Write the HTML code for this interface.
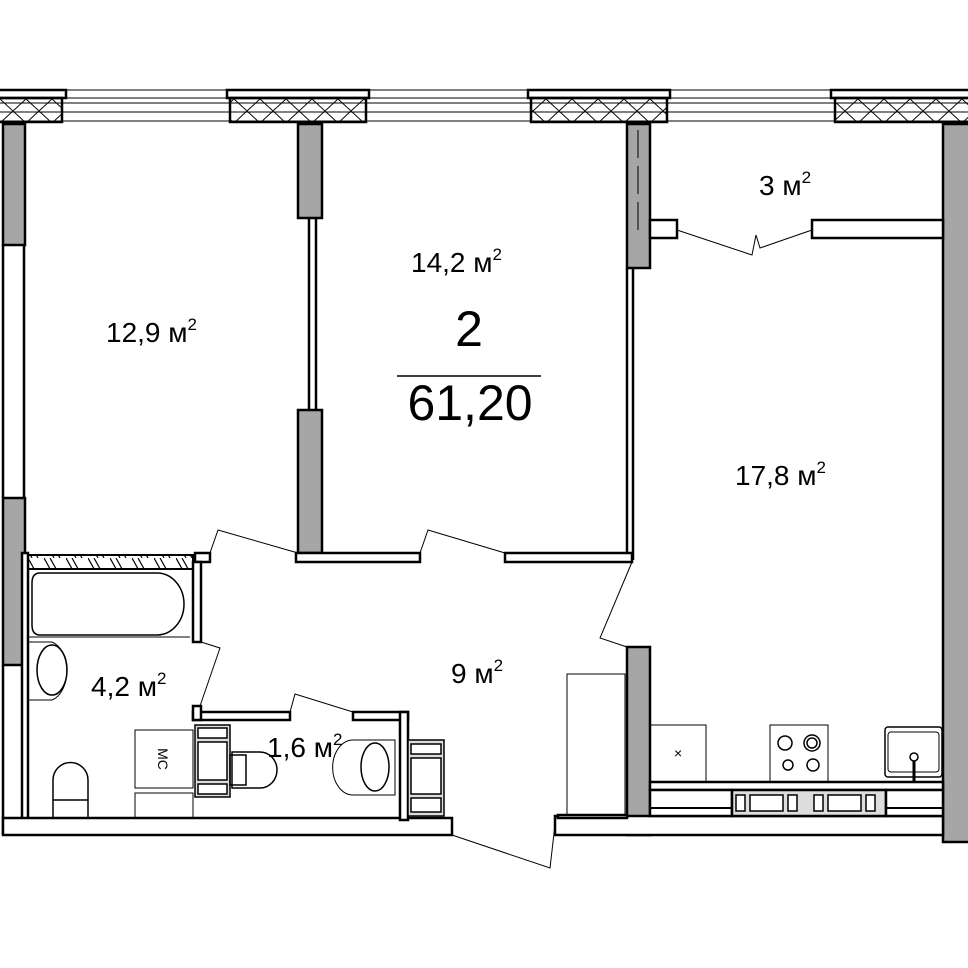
<!DOCTYPE html>
<html><head><meta charset="utf-8"><style>body{margin:0;background:#fff}svg{display:block}text{font-family:"Liberation Sans",sans-serif;fill:#000}</style></head><body>
<svg width="968" height="968" viewBox="0 0 968 968" xmlns="http://www.w3.org/2000/svg">
<defs>
<pattern id="xh" width="26" height="24" patternUnits="userSpaceOnUse" y="99"><path d="M0 0L26 24M26 0L0 24" stroke="#000" stroke-width="1"/></pattern>
<pattern id="dh" width="22" height="18" patternUnits="userSpaceOnUse"><path d="M0 0L10 18M6 0L16 18" stroke="#000" stroke-width="1.2"/></pattern>
</defs>
<g fill="none" stroke="#000" stroke-width="1">
<line x1="0" y1="90" x2="968" y2="90"/><line x1="0" y1="98" x2="968" y2="98"/><line x1="0" y1="103" x2="968" y2="103"/><line x1="0" y1="112" x2="968" y2="112"/><line x1="0" y1="121" x2="968" y2="121"/>
</g>
<g stroke="#000" stroke-width="2.5" fill="#fff">
<rect x="-5" y="90" width="71" height="8"/><rect x="-5" y="98" width="67" height="24" fill="url(#xh)"/>
<rect x="227" y="90" width="142" height="8"/><rect x="230" y="98" width="136" height="24" fill="url(#xh)"/>
<rect x="528" y="90" width="142" height="8"/><rect x="531" y="98" width="136" height="24" fill="url(#xh)"/>
<rect x="831" y="90" width="142" height="8"/><rect x="835" y="98" width="140" height="24" fill="url(#xh)"/>
</g>
<g stroke="#000" stroke-width="2.5" fill="#a6a6a6">
<rect x="3" y="124" width="22" height="121"/><rect x="3" y="498" width="22" height="167"/>
<rect x="298" y="124" width="24" height="94"/><rect x="298" y="410" width="24" height="143"/>
<rect x="627" y="124" width="23" height="144"/>
<rect x="943" y="124" width="30" height="718"/>
<rect x="627" y="647" width="23" height="188"/>
</g>
<line x1="638" y1="130" x2="638" y2="230" stroke="#000" stroke-width="1" stroke-dasharray="28,8"/>
<g stroke="#000" stroke-width="2.5" fill="#fff">
<line x1="3" y1="245" x2="3" y2="498"/><line x1="24" y1="245" x2="24" y2="498"/>
<line x1="3" y1="665" x2="3" y2="835"/>
<line x1="309" y1="218" x2="309" y2="410"/><line x1="316" y1="218" x2="316" y2="410"/>
<line x1="627" y1="268" x2="627" y2="560"/><line x1="633" y1="268" x2="633" y2="560"/>
<rect x="650" y="220" width="27" height="18"/><rect x="812" y="220" width="131" height="18"/>
<rect x="296" y="553" width="124" height="9"/><rect x="505" y="553" width="127" height="9"/>
<rect x="195" y="553" width="15" height="9"/>
<rect x="22" y="553" width="6" height="268"/>
<rect x="193" y="562" width="8" height="80"/>
<rect x="3" y="818" width="449" height="17"/>
<rect x="555" y="816" width="388" height="19"/>
<rect x="193" y="712" width="97" height="8"/><rect x="353" y="712" width="55" height="8"/>
<rect x="400" y="712" width="8" height="108"/>
<rect x="193" y="706" width="8" height="14"/>
</g>
<rect x="28" y="555" width="165" height="14" fill="url(#dh)" stroke="#000" stroke-width="2"/>
<g fill="none" stroke="#000" stroke-width="1">
<path d="M420 553L428 530L505 553"/><path d="M210 553L218 530L298 553"/>
<path d="M632 562L600 638L627 647"/>
<path d="M677 230L752 255L756 235L760 248L812 230"/>
<path d="M201 642L220 648L200 706"/>
<path d="M290 712L295 694L353 712"/>
<path d="M452 835L550 868L556 816"/>
</g>
<g fill="none" stroke="#000" stroke-width="1.5">
<path d="M40 573H157A27 31 0 0 1 157 635H40Q32 635 32 625V583Q32 573 40 573Z"/>
<line x1="28" y1="637" x2="190" y2="637" stroke-width="1"/>
<path d="M28 642H52A20 30 0 0 1 52 700H28Z" stroke-width="1"/>
<ellipse cx="52" cy="670" rx="15" ry="25"/>
<path d="M53 818V780A17 17 0 0 1 88 780V818"/><line x1="53" y1="800" x2="88" y2="800"/>
<rect x="135" y="730" width="58" height="58" stroke-width="1"/><rect x="135" y="793" width="58" height="25" stroke-width="1"/>
<rect x="195" y="725" width="35" height="72" fill="#ddd" stroke-width="1.5"/>
<rect x="198" y="728" width="29" height="10" fill="#fff"/><rect x="198" y="742" width="29" height="38" fill="#fff"/><rect x="198" y="784" width="29" height="10" fill="#fff"/>
<path d="M232 752H260A17 18 0 0 1 260 788H232Z"/><rect x="230" y="755" width="16" height="30"/>
<path d="M353 740H395V795H353A20 27 0 0 1 353 740Z" stroke-width="1"/>
<ellipse cx="375" cy="767" rx="14" ry="24"/>
<rect x="408" y="740" width="36" height="76" fill="#ddd"/>
<rect x="411" y="744" width="30" height="10" fill="#fff"/><rect x="411" y="758" width="30" height="36" fill="#fff"/><rect x="411" y="798" width="30" height="14" fill="#fff"/>
<rect x="567" y="674" width="58" height="142" stroke-width="1"/>
<rect x="650" y="725" width="56" height="57" stroke-width="1"/>
<rect x="770" y="725" width="58" height="57" stroke-width="1"/>
<circle cx="785" cy="743" r="7"/><circle cx="812" cy="743" r="8"/><circle cx="812" cy="743" r="5"/><circle cx="788" cy="765" r="5"/><circle cx="813" cy="765" r="6"/>
<rect x="885" y="727" width="57" height="50" rx="3"/><rect x="888" y="732" width="51" height="40" rx="3" stroke-width="1"/>
<circle cx="914" cy="757" r="4"/>
</g>
<line x1="914" y1="761" x2="914" y2="781" stroke="#000" stroke-width="3"/>
<g stroke="#000" stroke-width="2.5" fill="#fff">
<rect x="650" y="782" width="293" height="8"/>
<rect x="650" y="790" width="82" height="26"/><rect x="732" y="790" width="154" height="26" fill="#ddd"/><rect x="886" y="790" width="57" height="26"/>
<rect x="558" y="815" width="69" height="3"/>
</g>
<g fill="#fff" stroke="#000" stroke-width="1.5">
<rect x="736" y="795" width="9" height="16"/><rect x="750" y="795" width="33" height="16"/><rect x="788" y="795" width="9" height="16"/>
<rect x="814" y="795" width="9" height="16"/><rect x="828" y="795" width="33" height="16"/><rect x="866" y="795" width="9" height="16"/>
</g>
<line x1="650" y1="808" x2="732" y2="808" stroke="#000" stroke-width="2"/><line x1="886" y1="808" x2="943" y2="808" stroke="#000" stroke-width="2"/>
<text x="674" y="758" font-size="14">×</text>
<text x="158" y="759" font-size="14" transform="rotate(90 158 759)" text-anchor="middle">МС</text>
<text x="106" y="342" font-size="28">12,9 м<tspan font-size="17" dy="-12">2</tspan></text>
<text x="411" y="272" font-size="28">14,2 м<tspan font-size="17" dy="-12">2</tspan></text>
<text x="469" y="346" font-size="50" text-anchor="middle">2</text>
<line x1="397" y1="376" x2="541" y2="376" stroke="#000" stroke-width="1.5"/>
<text x="470" y="420" font-size="50" text-anchor="middle">61,20</text>
<text x="759" y="195" font-size="28">3 м<tspan font-size="17" dy="-12">2</tspan></text>
<text x="735" y="485" font-size="28">17,8 м<tspan font-size="17" dy="-12">2</tspan></text>
<text x="451" y="683" font-size="28">9 м<tspan font-size="17" dy="-12">2</tspan></text>
<text x="91" y="696" font-size="28">4,2 м<tspan font-size="17" dy="-12">2</tspan></text>
<text x="267" y="757" font-size="28">1,6 м<tspan font-size="17" dy="-12">2</tspan></text>
</svg>
</body></html>
